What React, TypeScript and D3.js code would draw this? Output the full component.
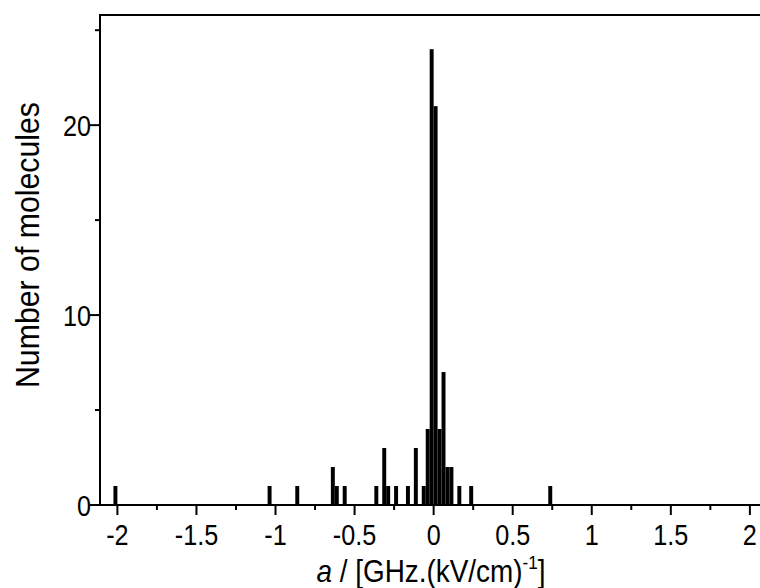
import React from "react";
import * as d3 from "d3";

// Histogram data: left edge of each bin and count of molecules
const binLefts = [-2.025, -1.05, -0.875, -0.65, -0.625, -0.575, -0.375, -0.325, -0.3, -0.25, -0.175, -0.125, -0.075, -0.05, -0.025, 0, 0.025, 0.05, 0.075, 0.1, 0.15, 0.225, 0.725];
const counts = [1, 1, 1, 2, 1, 1, 1, 3, 1, 1, 1, 3, 1, 4, 24, 21, 4, 7, 2, 2, 1, 1, 1];
const binWidth = 0.025;
const xMajorTicks = [-2, -1.5, -1, -0.5, 0, 0.5, 1, 1.5, 2];
const xTickLabels = ["-2", "-1.5", "-1", "-0.5", "0", "0.5", "1", "1.5", "2"];
const xMinorTicks = [-1.75, -1.25, -0.75, -0.25, 0.25, 0.75, 1.25, 1.75];
const yMajorTicks = [0, 10, 20];
const yMinorTicks = [5, 15, 25];

const W = 760;
const H = 588;
const FONT = "'Liberation Sans', Arial, sans-serif";
const SX = 0.84;

export default function App() {
  const x = d3.scaleLinear().domain([-2.11, 2.064]).range([100, 760]);
  const y = d3.scaleLinear().domain([0, 25.8]).range([505, 15]);
  const x0 = x(-2.11);
  const y0 = y(0);
  const bars = binLefts.map((b, i) => ({ b, c: counts[i] }));
  return (
    <svg width={W} height={H} style={{ position: "absolute", left: 0, top: 0, background: "#fff" }}>
      <g>
        {bars.map((d, i) => (
          <rect
            key={i}
            x={x(d.b)}
            y={y(d.c)}
            width={x(d.b + binWidth) - x(d.b)}
            height={y0 - y(d.c)}
            fill="#000"
          />
        ))}
      </g>
      {/* axes frame */}
      <line x1={x0} x2={W} y1={y0} y2={y0} stroke="#000" strokeWidth={2} />
      <line x1={x0} x2={x0} y1={y(25.8)} y2={y0} stroke="#000" strokeWidth={2} />
      <line x1={x0 - 1} x2={W} y1={y(25.8)} y2={y(25.8)} stroke="#000" strokeWidth={2} />
      {xMajorTicks.map((t, i) => (
        <g key={"xm" + i}>
          <line x1={x(t)} x2={x(t)} y1={y0} y2={y0 + 10} stroke="#000" strokeWidth={2} />
          <text
            transform={`translate(${x(t)},${y0 + 40}) scale(${SX},1)`}
            textAnchor="middle"
            fontFamily={FONT}
            fontSize={30}
            fill="#000"
          >
            {xTickLabels[i]}
          </text>
        </g>
      ))}
      {xMinorTicks.map((t, i) => (
        <line key={"xn" + i} x1={x(t)} x2={x(t)} y1={y0} y2={y0 + 5} stroke="#000" strokeWidth={2} />
      ))}
      {yMajorTicks.map((t, i) => (
        <g key={"ym" + i}>
          <line x1={x0 - 10} x2={x0} y1={y(t)} y2={y(t)} stroke="#000" strokeWidth={2} />
          <text
            transform={`translate(${x0 - 9},${y(t) + 10.5}) scale(${SX},1)`}
            textAnchor="end"
            fontFamily={FONT}
            fontSize={30}
            fill="#000"
          >
            {t}
          </text>
        </g>
      ))}
      {yMinorTicks.map((t, i) => (
        <line key={"yn" + i} x1={x0 - 5} x2={x0} y1={y(t)} y2={y(t)} stroke="#000" strokeWidth={2} />
      ))}
      <text
        transform={`translate(39,245) rotate(-90)`}
        textAnchor="middle"
        fontFamily={FONT}
        fontSize={33}
        textLength={286}
        lengthAdjust="spacingAndGlyphs"
        fill="#000"
      >
        Number of molecules
      </text>
      <text
        transform={`translate(431,582) scale(0.9,1)`}
        textAnchor="middle"
        fontFamily={FONT}
        fontSize={31}
        fill="#000"
      >
        <tspan fontStyle="italic">a</tspan>
        <tspan> / [GHz.(kV/cm)</tspan>
        <tspan fontSize={19} dy={-13}>-1</tspan>
        <tspan dy={13}>]</tspan>
      </text>
    </svg>
  );
}
